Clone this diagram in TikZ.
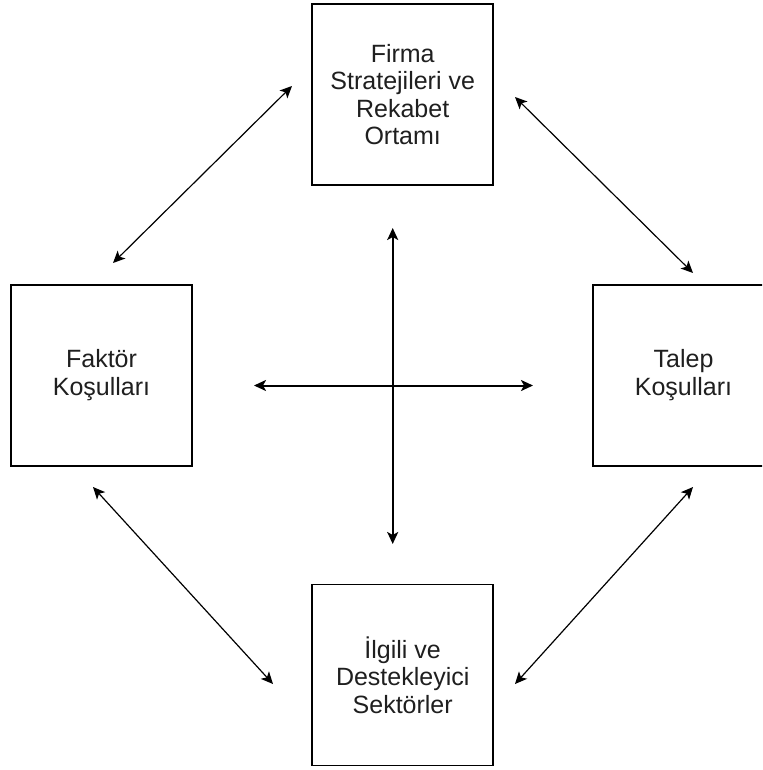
\documentclass[tikz,border=0pt]{standalone}
\usepackage{fontspec}
\setmainfont{Liberation Sans}
\usetikzlibrary{arrows.meta}
\begin{document}
\begin{tikzpicture}[x=1pt,y=-1pt,
  box/.style={draw=black,line width=1.8pt,minimum width=181pt,minimum height=181pt,
    inner sep=0pt,align=center,text=black!88,font=\fontsize{25}{27.5}\selectfont},
  tip/.style={},
  thinarrow/.style={line width=1.2pt,{Stealth[length=12pt,width=11pt,inset=3pt]}-{Stealth[length=12pt,width=11pt,inset=3pt]}},
  thickarrow/.style={line width=2pt,{Stealth[length=12pt,width=11pt,inset=3pt]}-{Stealth[length=12pt,width=11pt,inset=3pt]}}]
\useasboundingbox (0,0) rectangle (762,770);
\clip (0,0) rectangle (762,770);
\fill[white] (0,0) rectangle (762,770);
\node[box] (top) at (402.7,94.75) {Firma\\Stratejileri ve\\Rekabet\\Ortamı};
\node[box] (left) at (101.5,375.3) {Faktör\\Koşulları};
\node[box] (right) at (683.5,375.3) {Talep\\Koşulları};
\node[box] (bottom) at (402.7,675) {İlgili ve\\Destekleyici\\Sektörler};
\coordinate (tl1) at (113,263);
\coordinate (tl2) at (292,86);
\coordinate (tr1) at (515,97);
\coordinate (tr2) at (693,273);
\coordinate (bl1) at (93,487);
\coordinate (bl2) at (273,684);
\coordinate (br1) at (515,684);
\coordinate (br2) at (693,487);
\coordinate (vt) at (392.7,228);
\coordinate (vb) at (392.7,544);
\coordinate (hl) at (254,385.5);
\coordinate (hr) at (533,385.5);
\draw[thinarrow] (tl1) -- (tl2);
\draw[thinarrow] (tr1) -- (tr2);
\draw[thinarrow] (bl1) -- (bl2);
\draw[thinarrow] (br1) -- (br2);
\draw[thickarrow] (vt) -- (vb);
\draw[thickarrow] (hl) -- (hr);
\end{tikzpicture}
\end{document}
